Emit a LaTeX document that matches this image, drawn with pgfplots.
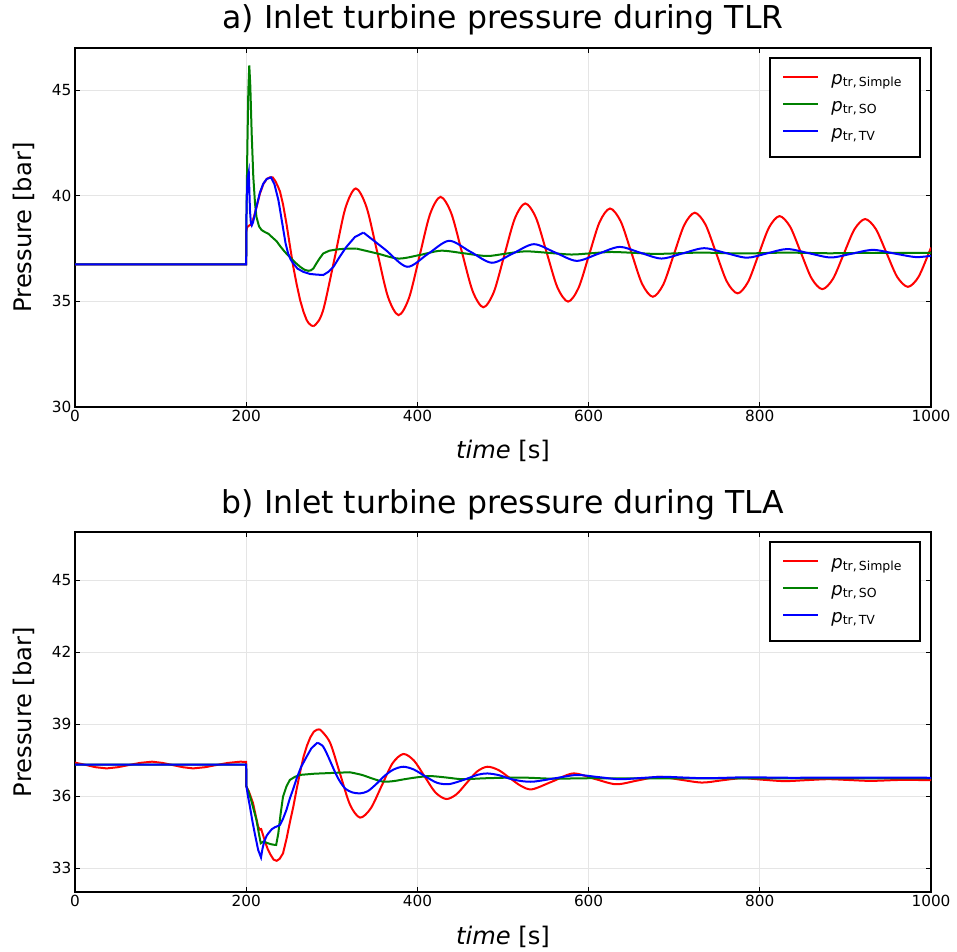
\documentclass[border=0pt]{standalone}
\usepackage{pgfplots}
\pgfplotsset{compat=1.18}
\usepackage{fontspec}
\setmainfont{DejaVu Sans}

\definecolor{pred}{RGB}{255,0,0}
\definecolor{pgreen}{RGB}{0,128,0}
\definecolor{pblue}{RGB}{0,0,255}

\newcommand{\ptr}[1]{{\fontsize{18}{20}\selectfont\textit{p}}\raisebox{-2pt}{\fontsize{12.5}{14}\selectfont tr,\,#1}\hspace*{4pt}}

\pgfplotsset{
  panel/.style={
    scale only axis, width=856pt,
    xmin=0, xmax=1000,
    xtick={0,200,...,1000},
    grid=major,
    major grid style={line width=0.8pt, color=black!10},
    axis line style={line width=1.7pt},
    tick style={line width=1pt, black},
    major tick length=5pt,
    tick align=inside,
    tick label style={font=\fontsize{15.3}{18}\selectfont},
    /pgf/number format/assume math mode=true,
    /pgf/number format/1000 sep={},
    label style={font=\fontsize{24.2}{29}\selectfont},
    title style={font=\fontsize{31.5}{38}\selectfont, at={(axis description cs:0.5,1)}, anchor=base, yshift=13pt},
    xlabel={\textit{time} [s]},
    ylabel={Pressure [bar]},
    xlabel style={at={(axis description cs:0.5,0)}, anchor=base, yshift=-52pt},
    ylabel style={at={(axis description cs:-0.0506,0.5)}, anchor=base},
    legend style={at={(axis description cs:0.9883,0.975)}, anchor=north east,
      draw=black, line width=1.9pt, fill=white,
      row sep=11.5pt, inner xsep=12.5pt, inner ysep=14.5pt, column sep=10pt},
    legend cell align=left,
    legend image code/.code={\draw[#1, line width=2pt] (0pt,3pt) -- (35pt,3pt);},
    every axis plot/.append style={line width=2pt},
  }
}

\begin{document}
\begin{tikzpicture}
\useasboundingbox (0,0) rectangle (957pt,951pt);

% ---------------- a) TLR ----------------
\begin{axis}[panel, height=359pt, at={(75pt,544pt)}, anchor=south west,
  ymin=30, ymax=47, ytick={30,35,40,45},
  title={a) Inlet turbine pressure during TLR}]
\addplot[pred, forget plot] coordinates {
(0,36.75)(200,36.75)(200,38.3)(201,38.5)(203,38.58)(206,38.65)(209,39.0)(212,39.45)
(216,40.1)(220,40.55)(224,40.8)(228,40.88)(231,40.87)(234,40.7)(237,40.45)(239.5,40.2)
(243,39.6)(247,38.69)(251,37.65)(255,36.64)(259,35.8)(263,35.06)(267,34.5)(270.6,34.12)
(273,33.97)(276,33.86)(279,33.83)};
\addplot[pred, smooth] coordinates {
(279,33.83)(285,34.1)(291.25,34.79)(303.5,37.09)(315.75,39.40)(328,40.35)(340.5,39.47)(353,37.35)
(365.5,35.23)(378,34.35)(390.25,35.17)(402.5,37.15)(414.75,39.13)(427,39.95)(439.5,39.18)
(452,37.335)(464.5,35.49)(477,34.72)(489.25,35.44)(501.5,37.18)(513.75,38.92)(526,39.64)
(538.5,38.96)(551,37.315)(563.5,35.67)(576,34.99)(588.25,35.64)(600.5,37.195)(612.75,38.75)
(625,39.40)(637.5,38.79)(650,37.31)(662.5,35.83)(675,35.22)(687.25,35.80)(699.5,37.21)
(711.75,38.62)(724,39.2)(736.5,38.64)(749,37.29)(761.5,35.94)(774,35.38)(786.25,35.92)
(798.5,37.21)(810.75,38.50)(823,39.04)(835.5,38.53)(848,37.31)(860.5,36.09)(873,35.58)
(885.5,36.07)(898,37.24)(910.5,38.41)(923,38.9)(935.5,38.43)(948,37.295)(960.5,36.16)
(973,35.69)(985.25,36.15)(997.5,37.3)(1000,37.55)};
\addlegendentry{\ptr{Simple}}
\addplot[pgreen, forget plot] coordinates {
(0,36.75)(200,36.75)(200.3,39.0)(201.3,42.16)(202.5,45.0)(203.6,46.18)(204.8,45.2)
(206.4,42.95)(208.3,40.9)(210.3,39.64)(212,39.0)(215,38.55)(218,38.38)(222,38.28)
(226,38.2)(230,38.05)(235.5,37.85)(240,37.6)(245,37.35)(251,37.1)(257,36.85)(263,36.64)
(268,36.5)(272.5,36.45)(275.5,36.47)(278.5,36.56)(282,36.8)(286,37.05)(290,37.27)
(297,37.4)(305.6,37.46)(317,37.5)(329,37.5)};
\addplot[pgreen, smooth] coordinates {
(329,37.5)(353,37.27)(378,37.03)(403,37.2)(427.5,37.4)(454,37.28)(481,37.15)(503,37.26)
(526,37.37)(553,37.3)(580,37.22)(603,37.28)(626,37.34)(653,37.3)(680,37.25)(730,37.31)
(780,37.27)(830,37.31)(880,37.28)(930,37.3)(1000,37.3)};
\addlegendentry{\ptr{SO}}
\addplot[pblue, forget plot] coordinates {
(0,36.75)(200,36.75)(200.4,39.5)(201.5,40.8)(203,41.13)(204.4,39.32)(205.5,38.7)
(206.5,38.6)(208,38.75)(210,39.1)(212,39.48)(216,40.15)(220,40.58)(224,40.8)(229,40.87)
(233,40.55)(237.6,39.8)(240.5,39.1)(243.4,38.38)(246,37.75)(249,37.27)(252,36.98)
(255,36.8)(260,36.55)(266.7,36.4)(274.5,36.3)(282,36.27)(290,36.25)(296,36.4)(302,36.64)
(309,37.1)(317,37.58)(327,38.05)(337,38.26)};
\addplot[pblue, smooth] coordinates {
(337,38.26)(362.5,37.45)(388,36.64)(412.5,37.255)(437,37.87)(462,37.35)(487,36.83)
(511.5,37.27)(536,37.71)(561,37.315)(586,36.92)(611,37.25)(636,37.58)(660.5,37.305)
(685,37.03)(710,37.275)(735,37.52)(760,37.295)(785,37.07)(808.5,37.275)(832,37.48)
(857.5,37.28)(883,37.08)(907.5,37.26)(932,37.44)(957,37.27)(982,37.1)(1000,37.16)};
\addlegendentry{\ptr{TV}}
\end{axis}

% ---------------- b) TLA ----------------
\begin{axis}[panel, height=360pt, at={(75pt,59pt)}, anchor=south west,
  ymin=32, ymax=47, ytick={33,36,...,45},
  title={b) Inlet turbine pressure during TLA}]
\addplot[pred, forget plot] coordinates {
(0,37.39)(12,37.3)(24,37.2)(37,37.15)(50,37.2)(63,37.29)(76,37.38)(90,37.43)(102,37.38)
(114,37.29)(126,37.2)(138,37.15)(152,37.2)(165,37.29)(179,37.38)(193,37.43)(200,37.42)
(200,36.4)(203,36.2)(206,35.9)(208,35.7)(211,35.2)(214,34.72)(216,34.6)(217.5,34.62)
(219,34.45)(222,34.1)(225,33.8)(228,33.58)(232,33.35)(235.6,33.3)(239,33.38)(243,33.61)
(247,34.2)(251,34.9)(255,35.55)(259,36.3)(263,37.0)(267,37.64)(271,38.1)(275,38.45)
(279,38.68)(282.5,38.76)(286,38.78)};
\addplot[pred, smooth] coordinates {
(286,38.78)(297.75,38.24)(309.5,36.94)(321.25,35.64)(333,35.1)(345.6,35.49)(358.25,36.425)
(370.9,37.36)(383.5,37.75)(396,37.475)(408.5,36.81)(421,36.15)(433.6,35.875)(445.6,36.07)
(457.7,36.55)(469.7,37.02)(481.7,37.22)(494.8,37.08)(507.9,36.75)(521,36.42)(534,36.28)
(558,36.61)(582,36.94)(607,36.715)(632,36.49)(657,36.645)(682,36.8)(707,36.68)
(732.5,36.56)(755,36.65)(778.5,36.74)(803,36.68)(828.6,36.62)(854,36.66)(880,36.70)
(905,36.665)(930,36.63)(965,36.67)(1000,36.66)};
\addlegendentry{\ptr{Simple}}
\addplot[pgreen, forget plot] coordinates {
(0,37.31)(200,37.31)(200.3,36.4)(203,36.15)(206,35.8)(209,35.4)(212,35.0)(215,34.4)
(217,34.03)(220,34.1)(224,34.05)(228,34.0)(232,33.97)(235,33.96)(237.5,34.44)(240,35.2)
(243,35.97)(247,36.4)(251,36.67)(257,36.8)(263,36.88)(280,36.93)(300,36.96)(321,36.99)};
\addplot[pgreen, smooth] coordinates {
(321,36.99)(335,36.88)(348,36.72)(360,36.6)(372,36.62)(385,36.7)(400,36.78)(415,36.83)
(434,36.77)(453,36.7)(480,36.74)(520,36.77)(560,36.72)(600,36.74)(700,36.73)(800,36.73)
(1000,36.73)};
\addlegendentry{\ptr{SO}}
\addplot[pblue, forget plot] coordinates {
(0,37.31)(200,37.31)(200.3,36.4)(202,36.0)(204.4,35.55)(207,35.0)(210,34.44)(214,33.75)
(217.3,33.44)(219,33.8)(221,34.1)(224,34.35)(226,34.45)(230,34.62)(233.6,34.7)(237,34.75)
(239.5,34.8)(243,35.05)(247,35.42)(251,35.9)(255,36.3)(259,36.74)(264,37.2)(270.6,37.64)
(276,37.98)(283,38.22)};
\addplot[pblue, smooth] coordinates {
(283,38.22)(289,38.1)(294,37.78)(300,37.3)(305,36.9)(309.6,36.6)(316,36.3)(324,36.15)
(333,36.11)(342,36.2)(352,36.5)(362,36.85)(372,37.1)(383.5,37.22)(396,37.1)(410,36.8)
(423,36.55)(435.7,36.49)(448,36.6)(460,36.75)(471,36.89)(481.7,36.94)(495,36.87)
(508,36.72)(522,36.62)(536,36.6)(561,36.74)(586,36.875)(611,36.79)(636,36.7)(661,36.75)
(686,36.8)(711,36.77)(736,36.74)(761,36.76)(786,36.78)(836,36.76)(900,36.77)(1000,36.76)};
\addlegendentry{\ptr{TV}}
\end{axis}
\end{tikzpicture}
\end{document}
